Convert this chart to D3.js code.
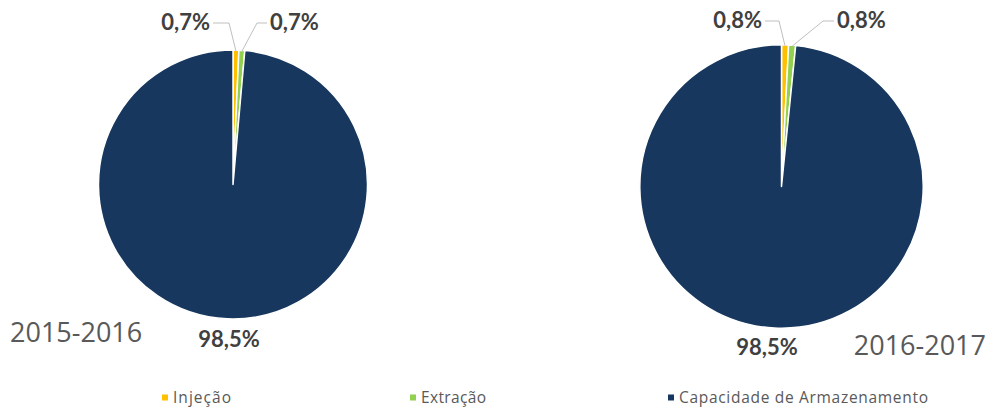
<!DOCTYPE html>
<html>
<head>
<meta charset="utf-8">
<script src="https://cdn.jsdelivr.net/npm/d3@7"></script>
<style>
  html, body { margin: 0; padding: 0; background: #ffffff; }
  svg { display: block; }
</style>
</head>
<body>
<svg id="chart" width="995" height="412"></svg>
<script>
// Shares of storage capacity, injection and extraction per gas year
const categories = ["Injeção", "Extração", "Capacidade de Armazenamento"];
const periods = ["2015-2016", "2016-2017"];
const values2015 = [0.7, 0.7, 98.5];
const values2016 = [0.8, 0.8, 98.5];
const colors = ["#FFC000", "#92D050", "#17375E"];

const fmt = v => d3.format(".1f")(v).replace(".", ",") + "%";

const svg = d3.select("#chart");
svg.append("rect").attr("width", 995).attr("height", 412).attr("fill", "#ffffff");

const color = d3.scaleOrdinal().domain(categories).range(colors);
const pie = d3.pie().sort(null).value(d => d.value);

// Layout of each pie: centre, radius and where its labels sit
const panels = [
  { values: values2015, period: periods[0], cx: 233, cy: 184.5, r: 134.5,
    smallY: 30, leftEnd: 210, rightStart: 270, elbowL: 229, elbowR: 257,
    bigX: 229, bigY: 347, periodX: 10, periodY: 342, periodAnchor: "start" },
  { values: values2016, period: periods[1], cx: 781.5, cy: 186.5, r: 141.7,
    smallY: 28, leftEnd: 762, rightStart: 837, elbowL: 779, elbowR: 823,
    bigX: 767, bigY: 355, periodX: 986, periodY: 355, periodAnchor: "end" }
];

const labelFont = "Lato, 'Open Sans', sans-serif";

panels.forEach(p => {
  const data = categories.map((c, i) => ({ cat: c, value: p.values[i] }));
  const arcs = pie(data);
  const arc = d3.arc().innerRadius(0).outerRadius(p.r);
  const g = svg.append("g").attr("transform", `translate(${p.cx},${p.cy})`);

  g.selectAll("path").data(arcs).join("path")
    .attr("d", arc)
    .attr("fill", d => color(d.data.cat))
    .attr("stroke", "#ffffff")
    .attr("stroke-width", 1.5)
    .attr("stroke-linejoin", "round");

  // point on the rim at the middle of a slice
  const rim = d => {
    const a = (d.startAngle + d.endAngle) / 2;
    return [p.r * Math.sin(a), -p.r * Math.cos(a)];
  };

  // small slices: leader lines with elbows to labels above the pie
  const [inj, ext, cap] = arcs;
  const pi = rim(inj), pe = rim(ext);
  const yL = p.smallY - p.cy - 7;
  const line = d3.line();
  g.append("path")
    .attr("d", line([[p.leftEnd + 3 - p.cx, yL], [p.elbowL - p.cx, yL], [pi[0], pi[1] + 1]]))
    .attr("fill", "none").attr("stroke", "#bfbfbf").attr("stroke-width", 1);
  g.append("path")
    .attr("d", line([[pe[0], pe[1] + 1], [p.elbowR - p.cx, yL], [p.rightStart - 3 - p.cx, yL]]))
    .attr("fill", "none").attr("stroke", "#bfbfbf").attr("stroke-width", 1);

  const pctText = (x, y, anchor, txt) => svg.append("text")
    .attr("x", x).attr("y", y)
    .attr("text-anchor", anchor)
    .attr("font-family", labelFont).attr("font-weight", "bold").attr("font-size", 22)
    .attr("fill", "#404040")
    .text(txt);

  pctText(p.leftEnd, p.smallY, "end", fmt(inj.data.value));
  pctText(p.rightStart, p.smallY, "start", fmt(ext.data.value));
  // large slice label below the pie
  pctText(p.bigX, p.bigY, "middle", fmt(cap.data.value));

  // period caption
  svg.append("text")
    .attr("x", p.periodX).attr("y", p.periodY)
    .attr("text-anchor", p.periodAnchor)
    .attr("font-family", "'Open Sans', sans-serif").attr("font-size", 27)
    .attr("fill", "#595959")
    .text(p.period);
});

// legend along the bottom
const legendX = [162, 410, 668];
const legendW = [58, 65, 249];
const lg = svg.append("g");
categories.forEach((c, i) => {
  lg.append("rect")
    .attr("x", legendX[i]).attr("y", 394.5)
    .attr("width", 6).attr("height", 6)
    .attr("fill", color(c));
  lg.append("text")
    .attr("x", legendX[i] + 11).attr("y", 403)
    .attr("font-family", "'Open Sans', sans-serif").attr("font-size", 15.5)
    .attr("fill", "#595959")
    .attr("textLength", legendW[i]).attr("lengthAdjust", "spacing")
    .text(c);
});
</script>
</body>
</html>
